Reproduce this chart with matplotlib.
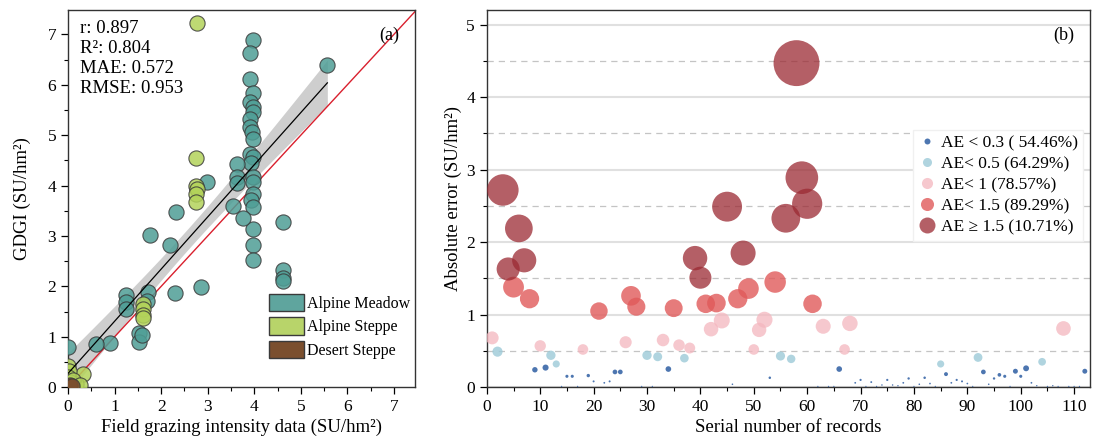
import numpy as np
import matplotlib
matplotlib.use('Agg')
import matplotlib.pyplot as plt
from matplotlib.patches import Patch
from matplotlib.lines import Line2D
from matplotlib.ticker import MultipleLocator

plt.rcParams['font.family'] = ['Liberation Serif', 'DejaVu Serif']
plt.rcParams['mathtext.fontset'] = 'stix'

# ---- panel (a): field data vs GDGI ----
meadow_x = [5.57, 3.98, 3.90, 3.91, 3.98, 3.90, 3.98, 3.98, 3.90, 3.90, 3.96, 3.98,
            3.90, 3.98, 3.94, 3.98, 3.98, 3.98, 3.94, 3.98, 3.98, 3.98, 3.98,
            3.62, 3.62, 3.62, 3.55, 3.75, 4.61, 4.62, 4.62, 4.62, 2.98, 2.32, 2.20,
            1.75, 2.85, 2.29, 1.24, 1.24, 1.24, 1.72, 1.69, 1.53, 1.53, 1.58, 0.90,
            0.60, 0.00]
meadow_y = [6.39, 6.88, 6.64, 6.11, 5.83, 5.66, 5.56, 5.46, 5.32, 5.17, 5.07, 4.93,
            4.63, 4.57, 4.44, 4.18, 4.07, 3.84, 3.71, 3.58, 3.13, 2.83, 2.53,
            4.42, 4.17, 4.05, 3.60, 3.35, 3.28, 2.32, 2.16, 2.10, 4.07, 3.47, 2.83,
            3.01, 1.98, 1.86, 1.83, 1.69, 1.56, 1.89, 1.71, 1.07, 0.90, 1.04, 0.88,
            0.86, 0.80]
steppe_x = [2.76, 2.75, 2.75, 2.76, 2.75, 2.75, 1.62, 1.62, 1.62, 1.62, 0.33,
            0.00, 0.02, 0.00, 0.17, 0.05, 0.10, 0.25]
steppe_y = [7.23, 4.54, 4.00, 3.94, 3.84, 3.68, 1.66, 1.56, 1.43, 1.37, 0.27,
            0.42, 0.33, 0.20, 0.07, 0.10, 0.15, 0.05]
desert_x = [0.02, 0.05, 0.08]
desert_y = [0.02, 0.05, 0.03]

stats_text = ['r: 0.897', 'R²: 0.804', 'MAE: 0.572', 'RMSE: 0.953']

# ---- panel (b): absolute error per record ----
record_no = list(range(1, 113))
abs_err = [0.68, 0.49, 2.72, 1.63, 1.38, 2.19, 1.75, 1.22, 0.24, 0.57,
           0.27, 0.44, 0.32, 0.01, 0.15, 0.15, 0.01, 0.52, 0.16, 0.08,
           1.05, 0.06, 0.08, 0.21, 0.21, 0.62, 1.26, 1.11, 0.01, 0.44,
           0.01, 0.42, 0.65, 0.25, 1.09, 0.58, 0.40, 0.54, 1.78, 1.51,
           1.15, 0.80, 1.16, 0.92, 2.49, 0.04, 1.22, 1.85, 1.36, 0.52,
           0.79, 0.93, 0.13, 1.45, 0.43, 2.33, 0.39, 4.47, 2.89, 2.53,
           1.15, 0.01, 0.84, 0.01, 0.01, 0.25, 0.52, 0.88, 0.06, 0.10,
           0.01, 0.07, 0.01, 0.03, 0.10, 0.03, 0.02, 0.06, 0.12, 0.01,
           0.04, 0.13, 0.05, 0.01, 0.32, 0.18, 0.06, 0.10, 0.08, 0.05,
           0.01, 0.41, 0.21, 0.04, 0.12, 0.17, 0.15, 0.01, 0.22, 0.15,
           0.26, 0.06, 0.02, 0.35, 0.01, 0.02, 0.01, 0.81, 0.01, 0.01,
           0.01, 0.22]
ae_bins = [0.3, 0.5, 1.0, 1.5]
group_labels = ['AE < 0.3 ( 54.46%)', 'AE< 0.5 (64.29%)', 'AE< 1 (78.57%)',
                'AE< 1.5 (89.29%)', 'AE ≥ 1.5 (10.71%)']
group_colors = ['#3a67a8', '#9ccad8', '#f4b6be', '#e05a5a', '#9b2a33']
group_alpha = [0.9, 0.8, 0.75, 0.8, 0.75]

fig = plt.figure(figsize=(10.94, 4.44), dpi=100)
ax1 = fig.add_axes([0.0622, 0.128, 0.317, 0.849])
ax2 = fig.add_axes([0.445, 0.128, 0.551, 0.849])

# panel (a)
all_x = np.array(meadow_x + steppe_x + desert_x)
all_y = np.array(meadow_y + steppe_y + desert_y)
slope, icpt = np.polyfit(all_x, all_y, 1)
xf = np.linspace(0, all_x.max(), 100)
yf = slope * xf + icpt
n = len(all_x)
resid = all_y - (slope * all_x + icpt)
se = np.sqrt(np.sum(resid ** 2) / (n - 2))
ci = 1.5 * se * np.sqrt(1 / n + (xf - all_x.mean()) ** 2 / np.sum((all_x - all_x.mean()) ** 2))
ax1.fill_between(xf, yf - ci, yf + ci, color='#c2c2c2', alpha=0.8, lw=0, zorder=1)

ax1.plot([0, 7.45], [0, 7.45], color='#d9202e', lw=1, zorder=2)
ax1.scatter(meadow_x, meadow_y, s=120, c='#4f9e96', alpha=0.85, edgecolors='#3a3a3a', linewidths=0.8, zorder=3)
ax1.scatter(steppe_x, steppe_y, s=120, c='#b3d35a', alpha=0.85, edgecolors='#3a3a3a', linewidths=0.8, zorder=3)
ax1.scatter(desert_x, desert_y, s=120, c='#7b4f2e', alpha=0.85, edgecolors='#3a3a3a', linewidths=0.8, zorder=3)
ax1.plot(xf, yf, color='black', lw=0.9, zorder=4)

ax1.set_xlim(0, 7.45)
ax1.set_ylim(0, 7.48)
ax1.xaxis.set_major_locator(MultipleLocator(1))
ax1.xaxis.set_minor_locator(MultipleLocator(0.5))
ax1.yaxis.set_major_locator(MultipleLocator(1))
ax1.yaxis.set_minor_locator(MultipleLocator(0.5))
ax1.tick_params(labelsize=12.5, direction='out', length=5, width=0.9)
ax1.tick_params(which='minor', direction='out', length=3, width=0.8)
ax1.set_xlabel('Field grazing intensity data (SU/hm²)', fontsize=13.5, labelpad=3)
ax1.set_ylabel('GDGI (SU/hm²)', fontsize=13.5, labelpad=12)
ax1.text(0.035, 0.975, '\n'.join(stats_text), transform=ax1.transAxes, fontsize=13.5,
         va='top', ha='left', linespacing=1.25)
ax1.text(0.955, 0.955, '(a)', transform=ax1.transAxes, fontsize=13, ha='right', va='top')
handles_a = [Patch(facecolor='#5fa59e', edgecolor='#3a3a3a', label='Alpine Meadow'),
             Patch(facecolor='#b8d46a', edgecolor='#3a3a3a', label='Alpine Steppe'),
             Patch(facecolor='#7b4f2e', edgecolor='#3a3a3a', label='Desert Steppe')]
ax1.legend(handles=handles_a, loc='lower right', bbox_to_anchor=(1.02, 0.045), frameon=False,
           fontsize=11.5, handlelength=2.2, handleheight=1.3, handletextpad=0.2,
           labelspacing=0.35, borderpad=0.2)

# panel (b)
ae = np.array(abs_err)
rec = np.array(record_no)
grp = np.digitize(ae, ae_bins)
d_px = np.maximum(22.5 * np.sqrt(ae) - 5.6, 1.2 + 10 * ae)
sizes = (d_px * 0.72) ** 2
for g in range(5):
    m = grp == g
    ax2.scatter(rec[m], ae[m], s=sizes[m], c=group_colors[g], alpha=group_alpha[g],
                linewidths=0, zorder=3)

ax2.set_xlim(0, 112.9)
ax2.set_ylim(0, 5.2)
ax2.xaxis.set_major_locator(MultipleLocator(10))
ax2.xaxis.set_minor_locator(MultipleLocator(5))
ax2.yaxis.set_major_locator(MultipleLocator(1))
ax2.yaxis.set_minor_locator(MultipleLocator(0.5))
ax2.grid(axis='y', which='major', color='#e0e0e0', lw=1.5, zorder=0)
ax2.grid(axis='y', which='minor', color='#c4c4c4', lw=0.9, ls=(0, (5, 4)), zorder=0)
ax2.set_axisbelow(True)
ax2.tick_params(labelsize=12.5, direction='out', length=5, width=0.9)
ax2.tick_params(which='minor', direction='out', length=3, width=0.8)
ax2.set_xlabel('Serial number of records', fontsize=13.5, labelpad=3)
ax2.set_ylabel('Absolute error (SU/hm²)', fontsize=13.5, labelpad=3)
ax2.text(0.975, 0.955, '(b)', transform=ax2.transAxes, fontsize=13, ha='right', va='top')
legend_ms = [4.3, 6.5, 8.0, 9.4, 11.5]
handles_b = [Line2D([], [], ls='none', marker='o', markersize=legend_ms[g], markerfacecolor=group_colors[g],
                    markeredgewidth=0, alpha=group_alpha[g], label=group_labels[g]) for g in range(5)]
ax2.legend(handles=handles_b, loc='upper right', bbox_to_anchor=(1.003, 0.705), fontsize=12.5,
           frameon=True, facecolor='white', edgecolor='#f0f0f0', framealpha=1, fancybox=False,
           handletextpad=0.3, labelspacing=0.28, borderpad=0.3, handlelength=1.0)

for ax in (ax1, ax2):
    for sp in ax.spines.values():
        sp.set_linewidth(1.0)
        sp.set_color('#333333')

fig.savefig('out.png', dpi=100)
